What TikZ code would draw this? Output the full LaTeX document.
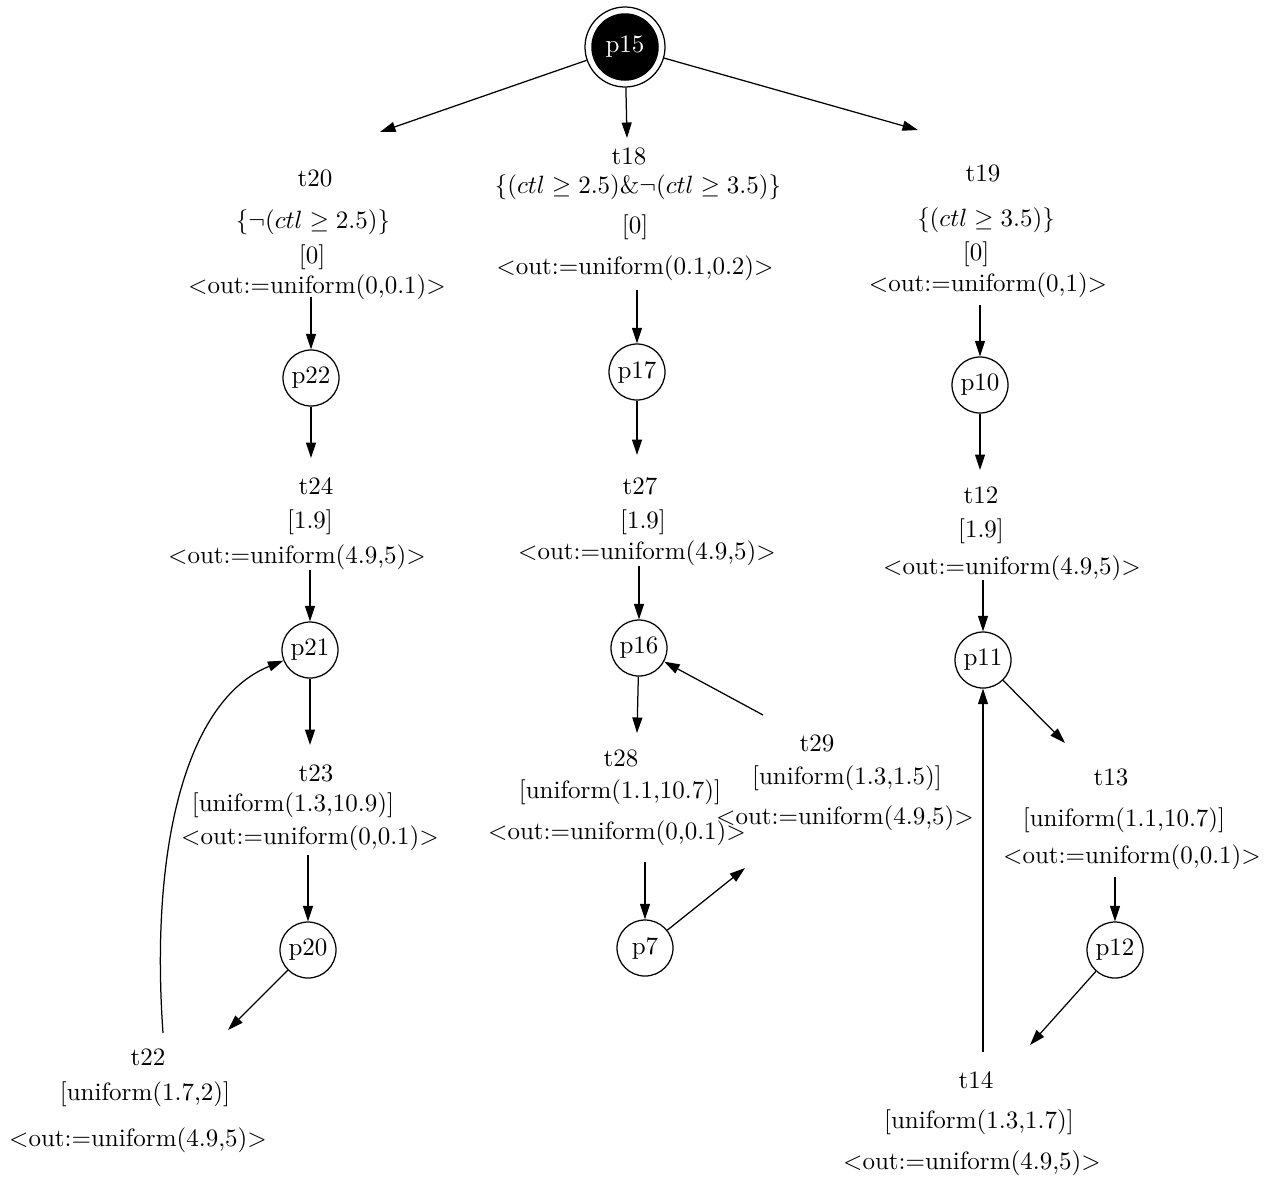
\documentclass[tikz,border=0pt]{standalone}
\usetikzlibrary{arrows.meta}
\begin{document}
\begin{tikzpicture}[x=0.4pt,y=-0.4pt,
  place/.style={circle,draw,line width=0.5pt,minimum size=22.4pt,inner sep=0pt,font=\fontsize{10}{12}\selectfont},
  lbl/.style={inner sep=0pt,anchor=center,font=\fontsize{10}{12}\selectfont},
  arc/.style={line width=0.5pt,-{Triangle[length=6.2pt,width=4pt]}},
  ]
\useasboundingbox (0,0) rectangle (1273,1181);

% initial place
\node[circle,draw,line width=0.5pt,minimum size=32pt,inner sep=0pt] (p15) at (625,47) {};
\node[circle,fill=black,minimum size=27pt,inner sep=0pt,text=white,font=\fontsize{10}{12}\selectfont] at (p15) {p15};

% places
\node[place] (p22) at (311,378) {p22};
\node[place] (p21) at (310,650) {p21};
\node[place] (p20) at (308,950) {p20};
\node[place] (p17) at (637,372) {p17};
\node[place] (p16) at (639,648) {p16};
\node[place] (p7)  at (645,948) {p7};
\node[place] (p10) at (980,385) {p10};
\node[place] (p11) at (983,660) {p11};
\node[place] (p12) at (1115,950) {p12};

% transitions: name, guard, delay, update
\node[lbl] (t20)  at (315,178) {t20};
\node[lbl] (t20g) at (313,222) {$\{\neg(ctl \geq 2.5)\}$};
\node[lbl] (t20d) at (312,257) {[0]};
\node[lbl] (t20u) at (317,287) {$<$out:=uniform(0,0.1)$>$};

\node[lbl] (t18)  at (629,156) {t18};
\node[lbl] (t18g) at (638,187) {$\{(ctl \geq 2.5)\&\neg(ctl \geq 3.5)\}$};
\node[lbl] (t18d) at (635,227) {[0]};
\node[lbl] (t18u) at (635,268) {$<$out:=uniform(0.1,0.2)$>$};

\node[lbl] (t19)  at (983,173) {t19};
\node[lbl] (t19g) at (986,220) {$\{(ctl \geq 3.5)\}$};
\node[lbl] (t19d) at (976,254) {[0]};
\node[lbl] (t19u) at (988,285) {$<$out:=uniform(0,1)$>$};

\node[lbl] (t24)  at (316,486) {t24};
\node[lbl] (t24d) at (310,522) {[1.9]};
\node[lbl] (t24u) at (297,557) {$<$out:=uniform(4.9,5)$>$};

\node[lbl] (t27)  at (640,486) {t27};
\node[lbl] (t27d) at (643,522) {[1.9]};
\node[lbl] (t27u) at (647,553) {$<$out:=uniform(4.9,5)$>$};

\node[lbl] (t12)  at (981,495) {t12};
\node[lbl] (t12d) at (981,531) {[1.9]};
\node[lbl] (t12u) at (1012,568) {$<$out:=uniform(4.9,5)$>$};

\node[lbl] (t23)  at (316,773) {t23};
\node[lbl] (t23d) at (293,805) {[uniform(1.3,10.9)]};
\node[lbl] (t23u) at (310,838) {$<$out:=uniform(0,0.1)$>$};

\node[lbl] (t28)  at (621,758) {t28};
\node[lbl] (t28d) at (620,792) {[uniform(1.1,10.7)]};
\node[lbl] (t28u) at (617,833) {$<$out:=uniform(0,0.1)$>$};

\node[lbl] (t29)  at (817,743) {t29};
\node[lbl] (t29d) at (847,778) {[uniform(1.3,1.5)]};
\node[lbl] (t29u) at (845,818) {$<$out:=uniform(4.9,5)$>$};

\node[lbl] (t13)  at (1111,777) {t13};
\node[lbl] (t13d) at (1124,820) {[uniform(1.1,10.7)]};
\node[lbl] (t13u) at (1132,857) {$<$out:=uniform(0,0.1)$>$};

\node[lbl] (t22)  at (148,1057) {t22};
\node[lbl] (t22d) at (145,1094) {[uniform(1.7,2)]};
\node[lbl] (t22u) at (138,1140) {$<$out:=uniform(4.9,5)$>$};

\node[lbl] (t14)  at (976,1080) {t14};
\node[lbl] (t14d) at (979,1122) {[uniform(1.3,1.7)]};
\node[lbl] (t14u) at (972,1163) {$<$out:=uniform(4.9,5)$>$};

% arc end points at the transitions
\coordinate (t20in)  at (380,132);
\coordinate (t20out) at (311,297);
\coordinate (t18in)  at (627,138);
\coordinate (t18out) at (637,290);
\coordinate (t19in)  at (918,130);
\coordinate (t19out) at (980,305);
\coordinate (t24in)  at (311,458);
\coordinate (t24out) at (310,570);
\coordinate (t27in)  at (637,455);
\coordinate (t27out) at (639,566);
\coordinate (t12in)  at (980,470);
\coordinate (t12out) at (983,580);
\coordinate (t23in)  at (310,745);
\coordinate (t23out) at (308,855);
\coordinate (t28in)  at (637,733);
\coordinate (t28out) at (645,862);
\coordinate (t29in)  at (745,868);
\coordinate (t29out) at (763,715);
\coordinate (t13in)  at (1065,743);
\coordinate (t13out) at (1115,877);
\coordinate (t22in)  at (228,1030);
\coordinate (t22out) at (163,1033);
\coordinate (t14in)  at (1030,1045);
\coordinate (t14out) at (983,1052);

% arcs
\draw[arc] (p15) -- (t20in);
\draw[arc] (p15) -- (t18in);
\draw[arc] (p15) -- (t19in);
\draw[arc] (t20out) -- (p22);
\draw[arc] (t18out) -- (p17);
\draw[arc] (t19out) -- (p10);
\draw[arc] (p22) -- (t24in);
\draw[arc] (p17) -- (t27in);
\draw[arc] (p10) -- (t12in);
\draw[arc] (t24out) -- (p21);
\draw[arc] (t27out) -- (p16);
\draw[arc] (t12out) -- (p11);
\draw[arc] (p21) -- (t23in);
\draw[arc] (p16) -- (t28in);
\draw[arc] (p11) -- (t13in);
\draw[arc] (t23out) -- (p20);
\draw[arc] (t28out) -- (p7);
\draw[arc] (t13out) -- (p12);
\draw[arc] (p20) -- (t22in);
\draw[arc] (p7) -- (t29in);
\draw[arc] (p12) -- (t14in);
\draw[arc] (t22out) .. controls (150,850) and (185,700) .. (p21);
\draw[arc] (t29out) -- (p16);
\draw[arc] (t14out) -- (p11);
\end{tikzpicture}
\end{document}
